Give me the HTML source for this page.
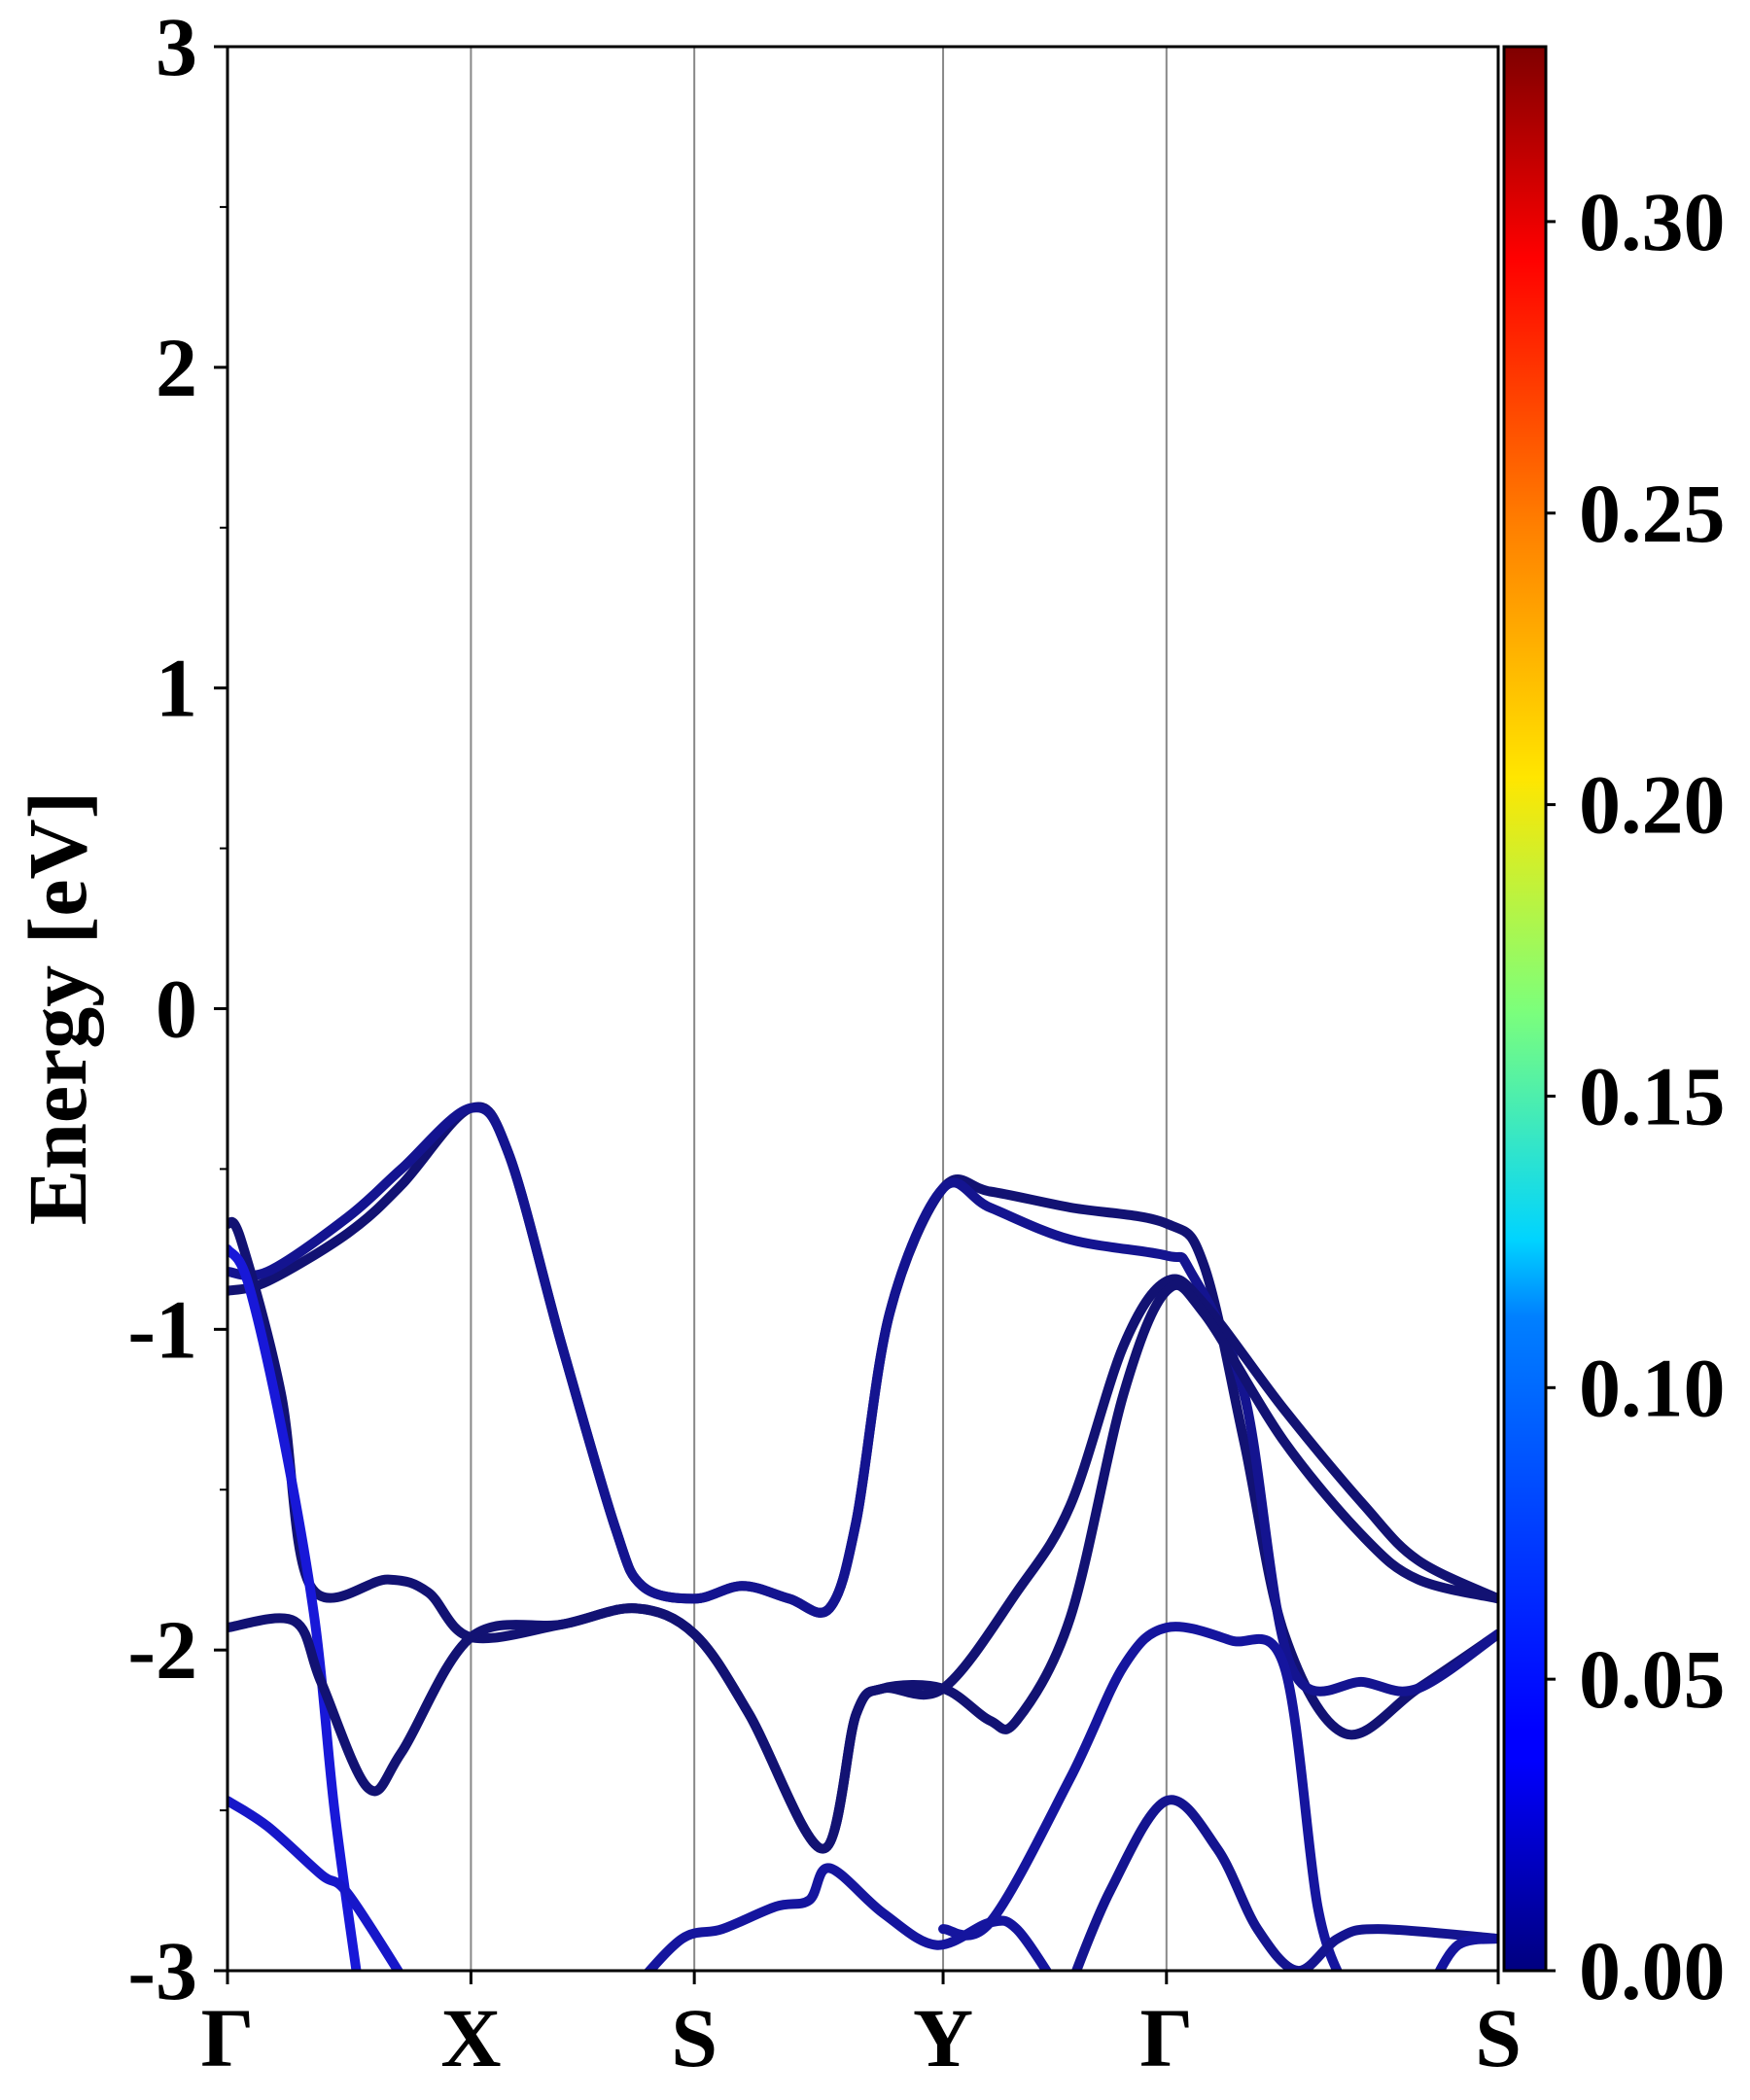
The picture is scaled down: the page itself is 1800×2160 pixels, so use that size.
<!DOCTYPE html>
<html><head><meta charset="utf-8"><style>
html,body{margin:0;padding:0;background:#fff}
svg{display:block}
text{font-family:"Liberation Serif","Times New Roman",serif;font-weight:bold;fill:#000}
</style></head><body>
<svg id="chart" width="1800" height="2160" viewBox="0 0 1800 2160" xmlns="http://www.w3.org/2000/svg">
<defs>
<linearGradient id="jet" x1="0" y1="1" x2="0" y2="0">
<stop offset="0" stop-color="#00007f"/><stop offset="0.11" stop-color="#0000ff"/>
<stop offset="0.125" stop-color="#0000ff"/><stop offset="0.34" stop-color="#0080ff"/>
<stop offset="0.38" stop-color="#00d4ff"/><stop offset="0.5" stop-color="#7dff7a"/>
<stop offset="0.62" stop-color="#ffe600"/><stop offset="0.75" stop-color="#ff8000"/>
<stop offset="0.89" stop-color="#ff0000"/><stop offset="1" stop-color="#7f0000"/>
</linearGradient>
<clipPath id="plotclip"><rect x="234" y="48" width="1307" height="1979"/></clipPath>
</defs>
<g id="grid"></g>
<g id="bands" clip-path="url(#plotclip)"></g>
<rect x="234" y="48" width="1307" height="1979" fill="none" stroke="#000" stroke-width="3"/>
<g id="axes"></g>
<text font-family="Liberation Serif, serif" transform="translate(88,1037) rotate(-90)" text-anchor="middle" font-size="86">Energy [eV]</text>
<rect x="1547" y="48" width="43" height="1979" fill="url(#jet)" stroke="#000" stroke-width="3"/>
<g id="cbar"></g>
</svg>
<script>
const kLabels=["Γ","X","S","Y","Γ","S"];
const kPos=[170,352,519,705,872,1120];
const yTicks=[3,2,1,0,-1,-2,-3];
const cbTicks=[0,0.05,0.10,0.15,0.20,0.25,0.30];
const cbMax=0.33;
const bandK=[
[170,200,260,300,352,380,420,460,480,519,555,590,620,640,665,705,740,800,872,900,930,960,1005,1060,1120],
[170,200,260,300,352,380,420,460,480,519,555,590,620,640,665,705,740,800,872,890,930,965,1020,1060,1120],
[170,180,210,232,290,320,352,420,475,519,560,615,640,660,705,760,800,840,872,900,960,1020,1060,1120],
[170,185,210,235,250,268],
[170,220,240,275,300,352,420,475,519,560,615,640,660,705,740,760,800,840,872,900,960,1020,1060,1120],
[705,740,800,840,872,920,960,985,1005],
[800,830,872,910,940,970,1000,1030,1120],
[170,200,240,260,305],
[475,510,540,580,605,620,660,700,740,760,790],
[1070,1090,1120]];
const bandE=[
[-0.88,-0.85,-0.70,-0.55,-0.31,-0.45,-1.05,-1.62,-1.80,-1.84,-1.80,-1.84,-1.87,-1.60,-0.95,-0.56,-0.57,-0.62,-0.67,-0.80,-1.35,-1.95,-2.26,-2.12,-1.95],
[-0.82,-0.82,-0.65,-0.50,-0.31,-0.45,-1.05,-1.62,-1.80,-1.84,-1.80,-1.84,-1.87,-1.60,-0.95,-0.56,-0.62,-0.72,-0.77,-0.82,-1.20,-2.05,-2.10,-2.12,-1.95],
[-0.67,-0.72,-1.2,-1.80,-1.78,-1.82,-1.96,-1.92,-1.87,-1.95,-2.2,-2.62,-2.2,-2.12,-2.12,-1.82,-1.55,-1.05,-0.85,-0.92,-1.25,-1.55,-1.72,-1.84],
[-0.75,-0.85,-1.3,-1.9,-2.5,-3.05],
[-1.93,-1.91,-2.1,-2.43,-2.32,-1.96,-1.92,-1.87,-1.95,-2.2,-2.62,-2.2,-2.12,-2.12,-2.22,-2.22,-1.9,-1.2,-0.88,-0.95,-1.35,-1.65,-1.78,-1.84],
[-2.87,-2.85,-2.40,-2.05,-1.93,-1.97,-2.05,-2.8,-3.05],
[-3.05,-2.75,-2.47,-2.62,-2.87,-3.0,-2.9,-2.87,-2.90],
[-2.47,-2.55,-2.70,-2.76,-3.05],
[-3.05,-2.90,-2.87,-2.80,-2.78,-2.68,-2.82,-2.92,-2.85,-2.87,-3.05],
[-3.05,-2.92,-2.90]];
const bandW=[0.0,0.01,0.0,0.035,0.0,0.015,0.01,0.03,0.015,0.015];

const NS="http://www.w3.org/2000/svg";
const L=234,R=1541,T=48,B=2027;
function xs(k){return L+(k-170)/(1120-170)*(R-L);}
function ys(e){return T+(3-e)/6*(B-T);}
function cb(v){return B-v/cbMax*(B-T);}
function col(w){const t=Math.min(1,w/0.04);const r=Math.round(18*(1-t)+25*t),g=Math.round(18*(1-t)+25*t),b=Math.round(115+(230-115)*t);return `rgb(${r},${g},${b})`;}
function mk(tag,parent,attrs){const e=document.createElementNS(NS,tag);for(const a in attrs)e.setAttribute(a,attrs[a]);parent.appendChild(e);return e;}
const grid=document.getElementById('grid'),bands=document.getElementById('bands'),axes=document.getElementById('axes'),cbar=document.getElementById('cbar');
kPos.forEach((k,i)=>{
 if(i>0&&i<kPos.length-1){const l=mk('line',grid,{x1:xs(k),x2:xs(k),y1:T,y2:B,stroke:'#888','stroke-width':2});
 
 }
 const tk=mk('line',axes,{x1:xs(k),x2:xs(k),y1:B,y2:B+14,stroke:'#000','stroke-width':3});
 
 
 const t=mk('text',axes,{x:xs(k),y:2125,'text-anchor':'middle','font-size':86});
 t.textContent=kLabels[i];
 
 
});
yTicks.forEach(v=>{
 const tk=mk('line',axes,{x1:L-14,x2:L,y1:ys(v),y2:ys(v),stroke:'#000','stroke-width':3});
 
 
 const t=mk('text',axes,{x:203,y:ys(v)+29,'text-anchor':'end','font-size':86});
 t.textContent=String(v);
 
 
});
for(let v=-2.5;v<3;v+=1){const tk=mk('line',axes,{x1:L-8,x2:L,y1:ys(v),y2:ys(v),stroke:'#000','stroke-width':2});
 
 }
function smooth(pts){let d=`M${pts[0][0]},${pts[0][1]}`;
 for(let i=0;i<pts.length-1;i++){const p0=pts[Math.max(0,i-1)],p1=pts[i],p2=pts[i+1],p3=pts[Math.min(pts.length-1,i+2)];
 const c1=[p1[0]+(p2[0]-p0[0])/6,p1[1]+(p2[1]-p0[1])/6],c2=[p2[0]-(p3[0]-p1[0])/6,p2[1]-(p3[1]-p1[1])/6];
 d+=` C${c1[0]},${c1[1]} ${c2[0]},${c2[1]} ${p2[0]},${p2[1]}`;}return d;}
bandK.forEach((ks,i)=>{
 const pts=ks.map((k,j)=>[xs(k),ys(bandE[i][j])]);
 const p=mk('path',bands,{d:smooth(pts),fill:'none',stroke:col(bandW[i]),'stroke-width':10,'stroke-linejoin':'round','stroke-linecap':'round'});
 
 
});
cbTicks.forEach(v=>{
 const tk=mk('line',cbar,{x1:1590,x2:1600,y1:cb(v),y2:cb(v),stroke:'#000','stroke-width':3});
 
 
 const t=mk('text',cbar,{x:1624,y:cb(v)+29,'font-size':86});
 t.textContent=v.toFixed(2);
 
 
});
</script>
</body></html>
